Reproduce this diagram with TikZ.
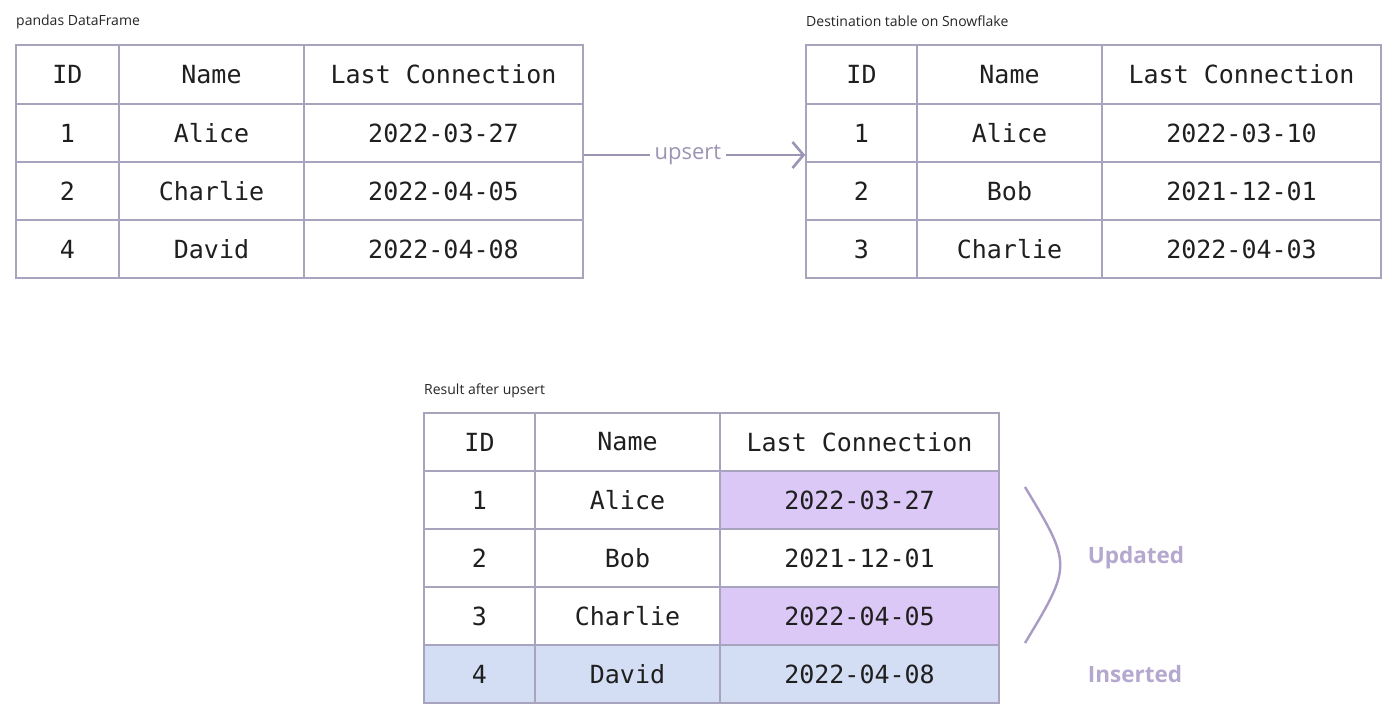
\documentclass[tikz,border=0pt]{standalone}
\usepackage{fontspec}
\setmainfont{Open Sans}
\newfontfamily\monof{DejaVu Sans Mono}
\usetikzlibrary{arrows.meta}
\definecolor{bordercol}{HTML}{A9A4BD}
\definecolor{arrowcol}{HTML}{9C94B2}
\definecolor{updfill}{HTML}{DCC8F6}
\definecolor{insfill}{HTML}{D3DDF3}
\definecolor{labcol}{HTML}{B4A8CF}
\definecolor{bracecol}{HTML}{A89CC4}
\tikzset{
  cellbox/.style={draw=bordercol, line width=1.6pt, inner sep=0pt, font=\monof\fontsize{25}{30}\selectfont, text=black!88},
  caption/.style={anchor=base west, font=\fontsize{14}{17}\selectfont, text=black!85, inner sep=0pt},
  sidelabel/.style={font=\bfseries\fontsize{22.5}{27}\selectfont, text=labcol, inner sep=0pt},
}
\newcommand\mkcell[7]{\node[cellbox,#7,minimum width={#4-#2},minimum height={#5-#3}] (#1) at ({(#2+#4)/2},{(#3+#5)/2}) {#6};}
\begin{document}
\begin{tikzpicture}[x=1pt,y=-1pt]
\useasboundingbox[fill=white] (0,0) rectangle (1400,728);
% captions
\node[caption] (cap1) at (16,25) {pandas DataFrame};
\node[caption] (cap2) at (806,27) {Destination table on Snowflake};
\node[caption] (cap3) at (424,394) {Result after upsert};
% table 1
\mkcell{a11}{16}{45}{119}{104}{ID}{}
\mkcell{a12}{119}{45}{304}{104}{Name}{}
\mkcell{a13}{304}{45}{583}{104}{Last Connection}{}
\mkcell{a21}{16}{104}{119}{162}{1}{}
\mkcell{a22}{119}{104}{304}{162}{Alice}{}
\mkcell{a23}{304}{104}{583}{162}{2022-03-27}{}
\mkcell{a31}{16}{162}{119}{220}{2}{}
\mkcell{a32}{119}{162}{304}{220}{Charlie}{}
\mkcell{a33}{304}{162}{583}{220}{2022-04-05}{}
\mkcell{a41}{16}{220}{119}{278}{4}{}
\mkcell{a42}{119}{220}{304}{278}{David}{}
\mkcell{a43}{304}{220}{583}{278}{2022-04-08}{}
% table 2
\mkcell{b11}{806}{45}{917}{104}{ID}{}
\mkcell{b12}{917}{45}{1102}{104}{Name}{}
\mkcell{b13}{1102}{45}{1381}{104}{Last Connection}{}
\mkcell{b21}{806}{104}{917}{162}{1}{}
\mkcell{b22}{917}{104}{1102}{162}{Alice}{}
\mkcell{b23}{1102}{104}{1381}{162}{2022-03-10}{}
\mkcell{b31}{806}{162}{917}{220}{2}{}
\mkcell{b32}{917}{162}{1102}{220}{Bob}{}
\mkcell{b33}{1102}{162}{1381}{220}{2021-12-01}{}
\mkcell{b41}{806}{220}{917}{278}{3}{}
\mkcell{b42}{917}{220}{1102}{278}{Charlie}{}
\mkcell{b43}{1102}{220}{1381}{278}{2022-04-03}{}
% table 3
\mkcell{c11}{424}{413}{535}{471}{ID}{}
\mkcell{c12}{535}{413}{720}{471}{Name}{}
\mkcell{c13}{720}{413}{999}{471}{Last Connection}{}
\mkcell{c21}{424}{471}{535}{529}{1}{}
\mkcell{c22}{535}{471}{720}{529}{Alice}{}
\mkcell{c23}{720}{471}{999}{529}{2022-03-27}{fill=updfill}
\mkcell{c31}{424}{529}{535}{587}{2}{}
\mkcell{c32}{535}{529}{720}{587}{Bob}{}
\mkcell{c33}{720}{529}{999}{587}{2021-12-01}{}
\mkcell{c41}{424}{587}{535}{645}{3}{}
\mkcell{c42}{535}{587}{720}{645}{Charlie}{}
\mkcell{c43}{720}{587}{999}{645}{2022-04-05}{fill=updfill}
\mkcell{c51}{424}{645}{535}{703}{4}{fill=insfill}
\mkcell{c52}{535}{645}{720}{703}{David}{fill=insfill}
\mkcell{c53}{720}{645}{999}{703}{2022-04-08}{fill=insfill}
% arrow
\draw[arrowcol, line width=2.6pt, -{Straight Barb[length=11pt,width=26pt,line width=2.6pt]}]
  ([yshift=-22pt]a23.east) -- node[pos=0.47, fill=white, inner xsep=5pt, inner ysep=2pt, font=\fontsize{22}{26}\selectfont, text=arrowcol] (ups) {upsert} ([yshift=-22pt]b21.west);
% brace
\coordinate (brtop) at (1025,487);
\coordinate (brbot) at (1025,643);
\draw[bracecol, line width=2.4pt] (brtop) .. controls (1072,565) .. (brbot);
\node[sidelabel] (upd) at (1136,558) {Updated};
\node[sidelabel] (ins) at (1135,674) {Inserted};
\end{tikzpicture}
\end{document}
